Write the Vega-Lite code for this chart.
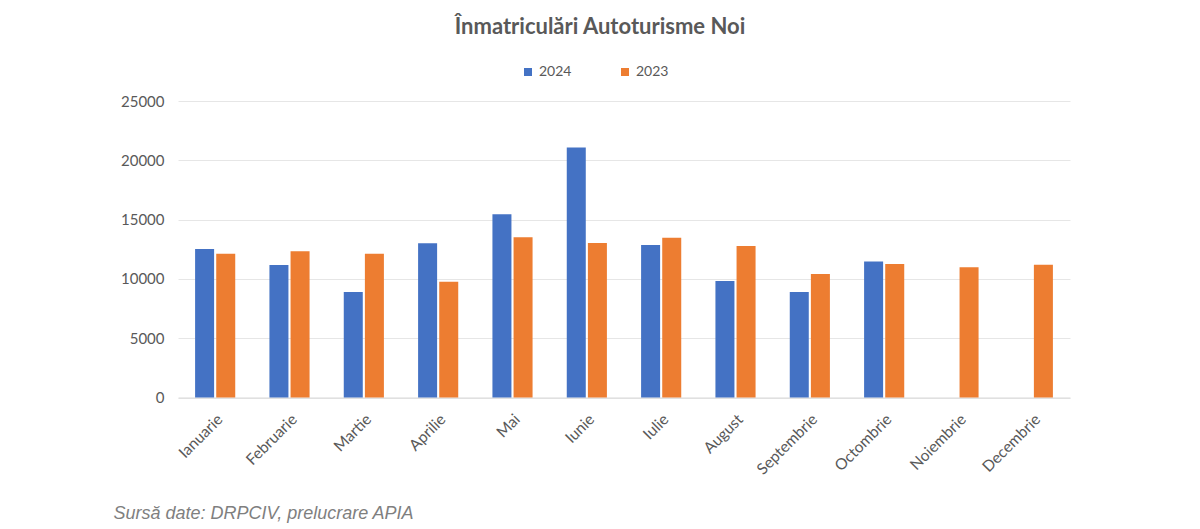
{
  "$schema": "https://vega.github.io/schema/vega-lite/v6.json",
  "autosize": "none",
  "width": 892,
  "height": 296.5,
  "padding": {"left": 178, "top": 101, "right": 130, "bottom": 131.5},
  "background": "white",
  "title": {
    "text": "Înmatriculări Autoturisme Noi",
    "font": "Lato, sans-serif",
    "fontSize": 22,
    "fontWeight": "bold",
    "color": "#595959",
    "anchor": "middle",
    "dx": -24,
    "offset": 26
  },
  "data": {
    "values": [
      {"luna": "Ianuarie", "an": "2024", "valoare": 12530},
      {"luna": "Ianuarie", "an": "2023", "valoare": 12130},
      {"luna": "Februarie", "an": "2024", "valoare": 11180},
      {"luna": "Februarie", "an": "2023", "valoare": 12330},
      {"luna": "Martie", "an": "2024", "valoare": 8900},
      {"luna": "Martie", "an": "2023", "valoare": 12130},
      {"luna": "Aprilie", "an": "2024", "valoare": 13000},
      {"luna": "Aprilie", "an": "2023", "valoare": 9770},
      {"luna": "Mai", "an": "2024", "valoare": 15450},
      {"luna": "Mai", "an": "2023", "valoare": 13510},
      {"luna": "Iunie", "an": "2024", "valoare": 21080},
      {"luna": "Iunie", "an": "2023", "valoare": 13030},
      {"luna": "Iulie", "an": "2024", "valoare": 12860},
      {"luna": "Iulie", "an": "2023", "valoare": 13480},
      {"luna": "August", "an": "2024", "valoare": 9820},
      {"luna": "August", "an": "2023", "valoare": 12780},
      {"luna": "Septembrie", "an": "2024", "valoare": 8890},
      {"luna": "Septembrie", "an": "2023", "valoare": 10420},
      {"luna": "Octombrie", "an": "2024", "valoare": 11460},
      {"luna": "Octombrie", "an": "2023", "valoare": 11260},
      {"luna": "Noiembrie", "an": "2023", "valoare": 10980},
      {"luna": "Decembrie", "an": "2023", "valoare": 11200}
    ]
  },
  "mark": {"type": "bar"},
  "encoding": {
    "x": {
      "field": "luna",
      "type": "nominal",
      "sort": null,
      "scale": {"paddingInner": 0.46, "paddingOuter": 0.23},
      "axis": {
        "title": "Sursă date: DRPCIV, prelucrare APIA",
        "titleFont": "Liberation Sans, Arial, sans-serif",
        "titleFontSize": 18,
        "titleFontStyle": "italic",
        "titleFontWeight": "normal",
        "titleColor": "#7f7f7f",
        "titleAnchor": "start",
        "titleAlign": "left",
        "titleBaseline": "alphabetic",
        "titleX": -65,
        "titleY": 121,
        "labelAngle": -45,
        "labelFont": "Lato, sans-serif",
        "labelFontSize": 15.5,
        "labelColor": "#595959",
        "labelPadding": 14,
        "ticks": false,
        "domainColor": "#d9d9d9",
        "grid": false
      }
    },
    "xOffset": {
      "field": "an",
      "type": "nominal",
      "scale": {"domain": ["2024", "2023"], "paddingInner": 0.1}
    },
    "y": {
      "field": "valoare",
      "type": "quantitative",
      "scale": {"domain": [0, 25000], "nice": false},
      "axis": {
        "title": null,
        "values": [0, 5000, 10000, 15000, 20000, 25000],
        "format": "d",
        "labelFont": "Lato, sans-serif",
        "labelFontSize": 15,
        "labelColor": "#595959",
        "labelPadding": 14,
        "ticks": false,
        "domain": false,
        "gridColor": "#e6e6e6",
        "gridWidth": 1
      }
    },
    "color": {
      "field": "an",
      "type": "nominal",
      "scale": {"domain": ["2024", "2023"], "range": ["#4472C4", "#ED7D31"]},
      "legend": {
        "title": null,
        "orient": "none",
        "direction": "horizontal",
        "legendX": 343,
        "legendY": -36,
        "symbolType": "square",
        "symbolSize": 64,
        "symbolStrokeWidth": 0,
        "labelFont": "Lato, sans-serif",
        "labelFontSize": 14,
        "labelColor": "#595959",
        "labelOffset": 4,
        "columnPadding": 46
      }
    }
  },
  "config": {
    "view": {"stroke": null}
  }
}
